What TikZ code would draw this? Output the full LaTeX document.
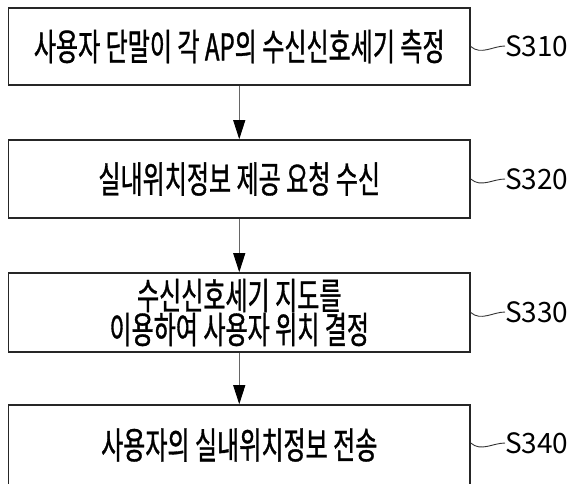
\documentclass[tikz,border=0pt]{standalone}
\usepackage{fontspec}
\setmainfont{Noto Sans CJK KR}
\newfontfamily\krc{Noto Sans CJK KR}[FakeStretch=0.65,FakeBold=0.9]
\usetikzlibrary{arrows.meta}
\begin{document}
\begin{tikzpicture}[x=1pt,y=-1pt,
  stepbox/.style={draw=black!85,line width=1.6pt,minimum width=461.5pt,inner sep=0pt,
    font=\krc\fontsize{37}{34}\selectfont,align=center},
  lbl/.style={anchor=west,inner sep=0pt,font=\fontsize{28}{30}\selectfont},
  flow/.style={draw=black!60,line width=0.9pt,-{Triangle[length=19pt,width=12pt,color=black]}},
  wave/.style={draw=black!80,line width=0.9pt}]
\clip (0,0) rectangle (575,483);
\node[stepbox,minimum height=77pt] (b1) at (239.25,46.5) {사용자 단말이 각 AP의 수신신호세기 측정};
\node[stepbox,minimum height=78pt] (b2) at (239.25,179) {실내위치정보 제공 요청 수신};
\node[stepbox,minimum height=79pt] (b3) at (239.25,312.5) {수신신호세기 지도를\\이용하여 사용자 위치 결정};
\node[stepbox,minimum height=80pt] (b4) at (239.25,445) {사용자의 실내위치정보 전송};
\node[lbl] (l1) at (505,46) {S310};
\node[lbl] (l2) at (505,179) {S320};
\node[lbl] (l3) at (505,312) {S330};
\node[lbl] (l4) at (505,443) {S340};
\draw[flow] (b1) -- (b2);
\draw[flow] (b2) -- (b3);
\draw[flow] (b3) -- (b4);
\draw[wave] (b1.east) .. controls +(10,9) and +(-12,0) .. (l1.west);
\draw[wave] (b2.east) .. controls +(10,9) and +(-12,0) .. (l2.west);
\draw[wave] (b3.east) .. controls +(10,9) and +(-12,0) .. (l3.west);
\draw[wave] (b4.east |- l4.west) .. controls +(10,9) and +(-12,0) .. (l4.west);
\end{tikzpicture}
\end{document}
